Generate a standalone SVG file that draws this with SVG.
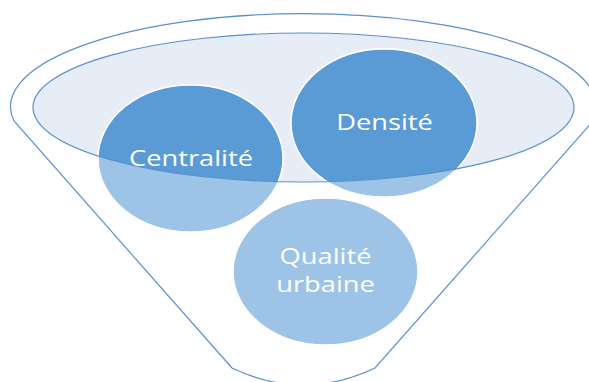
<svg xmlns="http://www.w3.org/2000/svg" width="589" height="382" viewBox="0 0 589 382">
<defs>
<style>
.outline{fill:none;stroke:#5b8fd0;stroke-width:1.2}
.bowl{fill:#e7edf7}
.light{fill:#9dc3e6;stroke:#fff;stroke-width:1.5}
.dark{fill:#5b9bd5;stroke:#fff;stroke-width:1.5}
.lbl{font-family:"Open Sans","DejaVu Sans",sans-serif;font-size:22px;fill:#fff;text-anchor:middle}
</style>
<clipPath id="inside"><ellipse cx="303.5" cy="107.5" rx="270.5" ry="74.5"/></clipPath>
</defs>
<g id="funnel">
<path class="outline" d="M232,368 L14,121 A293 93 0 1 1 593,121 L375,368 Q303.5,402 232,368 Z"/>
<ellipse class="bowl" cx="303.5" cy="107.5" rx="270.5" ry="74.5"/>
</g>
<g id="centralite">
<ellipse class="light" cx="190.5" cy="158.5" rx="92.5" ry="73.5"/>
<ellipse class="dark" cx="190.5" cy="158.5" rx="92.5" ry="73.5" clip-path="url(#inside)"/>
</g>
<g id="densite">
<ellipse class="light" cx="384" cy="123" rx="93" ry="74"/>
<ellipse class="dark" cx="384" cy="123" rx="93" ry="74" clip-path="url(#inside)"/>
</g>
<g id="qualite">
<ellipse class="light" cx="325.5" cy="271.5" rx="92.5" ry="73.5"/>
</g>
<g id="connectors">
<ellipse class="outline" cx="303.5" cy="107.5" rx="270.5" ry="74.5"/>
</g>
<g id="labels">
<text class="lbl" transform="translate(191,166) scale(1.24,1)">Centralité</text>
<text class="lbl" transform="translate(384.5,130) scale(1.24,1)">Densité</text>
<text class="lbl" transform="translate(325.5,264) scale(1.24,1)">Qualité</text>
<text class="lbl" transform="translate(325.5,292) scale(1.24,1)">urbaine</text>
</g>
</svg>
